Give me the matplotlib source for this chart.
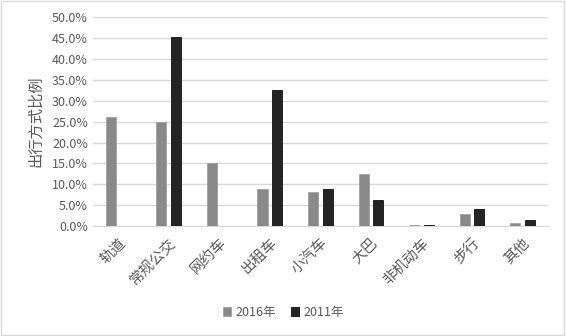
import numpy as np
import matplotlib.pyplot as plt
from matplotlib.ticker import PercentFormatter
from matplotlib.patches import Rectangle

plt.rcParams['font.family'] = ['Noto Sans CJK SC', 'DejaVu Sans']

modes = ['轨道', '常规公交', '网约车', '出租车', '小汽车', '大巴', '非机动车', '步行', '其他']
share_2016 = [26.0, 25.0, 15.0, 9.0, 8.2, 12.5, 0.3, 2.9, 0.8]
share_2011 = [0.0, 45.3, 0.0, 32.6, 9.0, 6.2, 0.3, 4.2, 1.4]

fig = plt.figure(figsize=(5.66, 3.36), dpi=100)
ax = fig.add_axes([0.164, 0.327, 0.804, 0.622])

x = np.arange(len(modes))
w = 0.2
ax.bar(x - 0.145, np.array(share_2016) / 100, w, color='#898989', edgecolor='#a0a0a0',
       linewidth=0.6, label='2016年', zorder=3)
ax.bar(x + 0.145, np.array(share_2011) / 100, w, color='#242424', edgecolor='#111111',
       linewidth=0.6, label='2011年', zorder=3)

ax.set_xlim(-0.5, len(modes) - 0.5)
ax.set_ylim(0, 0.5)
ax.set_yticks(np.arange(0, 0.51, 0.05))
ax.yaxis.set_major_formatter(PercentFormatter(1.0, decimals=1))
ax.grid(axis='y', color='#d9d9d9', linewidth=1, zorder=0)
for s in ['top', 'right', 'left']:
    ax.spines[s].set_visible(False)
ax.spines['bottom'].set_color('#d9d9d9')
ax.tick_params(length=0, colors='#595959', labelsize=9)
ax.tick_params(axis='x', pad=7)
ax.set_xticks(x)
ax.set_xticklabels(modes, rotation=45, ha='right', rotation_mode='anchor',
                   fontsize=10.5, color='#595959')
ax.set_ylabel('出行方式比例', color='#595959', fontsize=11, labelpad=6)

fig.legend(loc='center', bbox_to_anchor=(0.5, 0.07), ncol=2, frameon=False,
           fontsize=9, labelcolor='#595959', handlelength=0.7, handleheight=0.7,
           columnspacing=1.2, handletextpad=0.3)

fig.patches.append(Rectangle((0.002, 0.003), 0.995, 0.994, transform=fig.transFigure,
                             fill=False, edgecolor='#d9d9d9', linewidth=1))

fig.savefig('out.png', dpi=100)
